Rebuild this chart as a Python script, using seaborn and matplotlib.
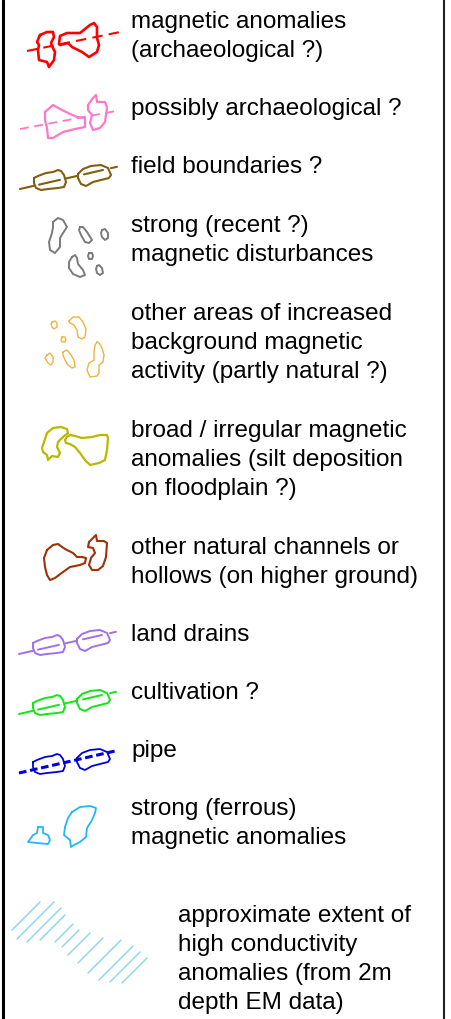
import matplotlib
matplotlib.use("Agg")
import seaborn as sns
from matplotlib import pyplot as plt

# Legendentexte (je Eintrag eine Liste von Zeilen)
labels = [
    ["magnetic anomalies", "(archaeological ?)"],
    ["possibly archaeological ?"],
    ["field boundaries ?"],
    ["strong (recent ?)", "magnetic disturbances"],
    ["other areas of increased", "background magnetic", "activity (partly natural ?)"],
    ["broad / irregular magnetic", "anomalies (silt deposition", "on floodplain ?)"],
    ["other natural channels or", "hollows (on higher ground)"],
    ["land drains"],
    ["cultivation ?"],
    ["pipe"],
    ["strong (ferrous)", "magnetic anomalies"],
    ["approximate extent of", "high conductivity", "anomalies (from 2m", "depth EM data)"],
]

# Umrisse der Symbole (Pixel im Legendenfeld)
red_blobs = [
    [(40, 35), (47, 32), (53, 32), (54, 37), (51, 43), (52, 46), (55, 52), (54, 60),
     (49, 67), (47, 62), (39, 60), (38, 50), (39, 45), (37, 42)],
    [(59, 44), (60, 36), (67, 33), (80, 33), (90, 25), (94, 23), (97, 27), (97, 38),
     (99, 45), (97, 52), (89, 57), (82, 52), (72, 47), (68, 43), (60, 45)],
]
red_line = [(27, 51), (125, 31)]

pink_blobs = [
    [(45, 112), (53, 105), (60, 109), (68, 113), (77, 117), (85, 118), (85, 127), (75, 129),
     (63, 132), (53, 138), (48, 138), (47, 128), (45, 120)],
    [(88, 105), (93, 98), (96, 95), (97, 102), (105, 102), (107, 108), (105, 122), (100, 128),
     (93, 130), (90, 123), (92, 115), (88, 110)],
]
pink_line = [(20, 129), (116, 111)]

# Vorlage fuer Graben/Drainage-Symbole, relativ zum linken Linienende
drain_blobs = [
    [(14, -11), (18, -13), (26, -16), (33, -17), (38, -19), (41, -18), (44, -14), (46, -7),
     (44, -2), (38, -1), (28, 0), (21, 1), (16, -1), (14, -6)],
    [(58, -15), (63, -20), (71, -23), (81, -24), (88, -21), (91, -14), (89, -11), (81, -9),
     (73, -7), (66, -3), (61, -5), (58, -11)],
]
drain_len, drain_slope = 97, -0.229
drain_outer = [(0, 14), (46, 58), (91, 97)]
drain_inner = [(19, 40), (64, 83)]

gray_blobs = [
    [(53, 222), (58, 218), (63, 220), (67, 227), (63, 233), (60, 238), (60, 247), (55, 253),
     (50, 250), (49, 242), (52, 233), (53, 227)],
    [(80, 227), (83, 227), (87, 232), (92, 240), (89, 243), (85, 242), (81, 235), (79, 230)],
    [(102, 230), (105, 229), (108, 233), (108, 238), (105, 240), (102, 237), (101, 233)],
    [(72, 257), (75, 255), (77, 258), (78, 264), (83, 270), (85, 275), (80, 277), (73, 274),
     (69, 268), (69, 262)],
    [(89, 253), (92, 253), (93, 256), (92, 259), (89, 259), (88, 256)],
    [(97, 266), (99, 265), (102, 268), (103, 273), (100, 275), (97, 273), (96, 269)],
]

orange_blobs = [
    [(52, 322), (55, 321), (57, 323), (57, 327), (54, 329), (52, 327), (51, 324)],
    [(69, 321), (73, 317), (79, 317), (83, 322), (86, 329), (85, 337), (82, 339), (78, 337),
     (77, 330), (74, 325), (70, 323)],
    [(62, 337), (65, 337), (66, 340), (65, 342), (62, 342), (61, 340)],
    [(47, 355), (50, 353), (53, 357), (53, 362), (51, 365), (48, 363), (45, 358)],
    [(63, 352), (67, 350), (71, 355), (74, 360), (75, 367), (72, 368), (68, 365), (65, 360),
     (63, 355)],
    [(97, 342), (99, 343), (102, 348), (104, 355), (103, 362), (99, 365), (99, 373), (97, 376),
     (90, 377), (87, 370), (89, 363), (94, 360), (94, 352), (95, 345)],
]

olive_blobs = [
    [(47, 433), (53, 428), (61, 427), (67, 429), (68, 433), (63, 437), (58, 442), (57, 447),
     (60, 453), (58, 457), (52, 456), (48, 460), (47, 455), (43, 452), (42, 448), (44, 442)],
    [(67, 437), (70, 435), (75, 436), (82, 438), (92, 437), (100, 435), (107, 435), (108, 438),
     (107, 450), (105, 460), (99, 463), (90, 465), (85, 460), (80, 453), (75, 447), (70, 444),
     (66, 443), (65, 440)],
]

channel_blobs = [
    [(47, 550), (53, 545), (58, 544), (65, 549), (73, 553), (77, 557), (82, 557), (86, 558),
     (85, 563), (80, 565), (70, 567), (63, 572), (55, 578), (50, 580), (47, 575), (45, 567),
     (44, 558)],
    [(89, 542), (93, 538), (96, 535), (97, 541), (104, 541), (107, 543), (106, 557), (103, 566),
     (98, 570), (92, 570), (89, 565), (91, 558), (95, 553), (93, 548), (88, 547)],
]

cyan_blobs = [
    [(38, 827), (43, 827), (43, 833), (48, 835), (50, 840), (48, 844), (37, 843), (28, 842),
     (33, 835), (37, 833)],
    [(72, 812), (80, 807), (90, 806), (96, 808), (95, 813), (92, 820), (87, 828), (86, 837),
     (80, 842), (74, 845), (71, 847), (70, 840), (64, 835), (65, 827), (68, 818)],
]

# Schraffur: Startpunkt unten links und Laenge (45 Grad)
hatch_x = [12, 17, 27, 40, 55, 62, 68, 78, 88, 99, 110, 122]
hatch_y = [930, 939, 942, 940, 942, 947, 955, 963, 973, 980, 982, 983]
hatch_len = [28, 37, 34, 25, 18, 17, 22, 25, 33, 34, 30, 25]

# Layout
text_x = [131] * 11 + [178]
text_y = [20, 107, 165, 224, 312, 429, 546, 633, 691, 749, 807, 914]
line_step = 29

sns.set_theme(style="white")
plt.rcParams['font.family'] = ['Liberation Sans', 'DejaVu Sans']

fig = plt.figure(figsize=(4.52, 10.19), dpi=100)
ax = fig.add_axes([0, 0, 1, 1])
ax.set_xlim(0, 452)
ax.set_ylim(1019, 0)
ax.axis("off")


def outline(pts, color, lw, dx=0, dy=0):
    xs = [p[0] + dx for p in pts] + [pts[0][0] + dx]
    ys = [p[1] + dy for p in pts] + [pts[0][1] + dy]
    sns.lineplot(x=xs, y=ys, sort=False, estimator=None, color=color, lw=lw,
                 solid_joinstyle="round", ax=ax)


def seg(p0, p1, color, lw, ls="-"):
    sns.lineplot(x=[p0[0], p1[0]], y=[p0[1], p1[1]], sort=False, estimator=None,
                 color=color, lw=lw, linestyle=ls, ax=ax)


def drain(x0, y0, color, lw, dashed_pipe=False):
    if dashed_pipe:
        seg((x0, y0), (x0 + drain_len, y0 + drain_slope * drain_len), color, 2.2, (0, (2.5, 1.2)))
    else:
        for a, b in drain_outer + drain_inner:
            seg((x0 + a, y0 + drain_slope * a), (x0 + b, y0 + drain_slope * b), color, lw)
    for blob in drain_blobs:
        outline(blob, color, lw, x0, y0)


# 1 rot
seg(red_line[0], red_line[1], "#ff0000", 1.5, (0, (5, 3)))
for b in red_blobs:
    outline(b, "#ff0000", 1.9)

# 2 rosa
seg(pink_line[0], pink_line[1], "#ff78c8", 1.3, (0, (5, 3)))
for b in pink_blobs:
    outline(b, "#ff78c8", 1.6)

# 3 Feldgrenzen
drain(20, 189, "#7f5f10", 1.5)

# 4 grau
for b in gray_blobs:
    outline(b, "#7a7a7a", 1.4)

# 5 orange
for b in orange_blobs:
    outline(b, "#efb43c", 1.0)

# 6 oliv
for b in olive_blobs:
    outline(b, "#b8b800", 1.6)

# 7 Kanaele
for b in channel_blobs:
    outline(b, "#a03008", 1.5)

# 8-10 Drainagen, Kultivierung, Leitung
drain(19, 654, "#a070e8", 1.4)
drain(19, 714, "#10e810", 1.4)
drain(19, 773, "#0000d8", 1.3, dashed_pipe=True)

# 11 cyan
for b in cyan_blobs:
    outline(b, "#20b8f8", 1.3)

# 12 Schraffur
for hx, hy, hl in zip(hatch_x, hatch_y, hatch_len):
    seg((hx, hy), (hx + hl, hy - hl), "#90d6f2", 1.1)

# Texte
for lines, tx, ty in zip(labels, text_x, text_y):
    for i, line in enumerate(lines):
        ax.text(tx, ty + 8 + i * line_step, line, fontsize=17.5, color="black",
                ha="left", va="baseline")

# Rahmen
seg((3.5, 0), (3.5, 1019), "black", 2.2)
seg((444, 0), (444, 1019), "#222222", 1.5)

plt.savefig("out.png", dpi=100)
